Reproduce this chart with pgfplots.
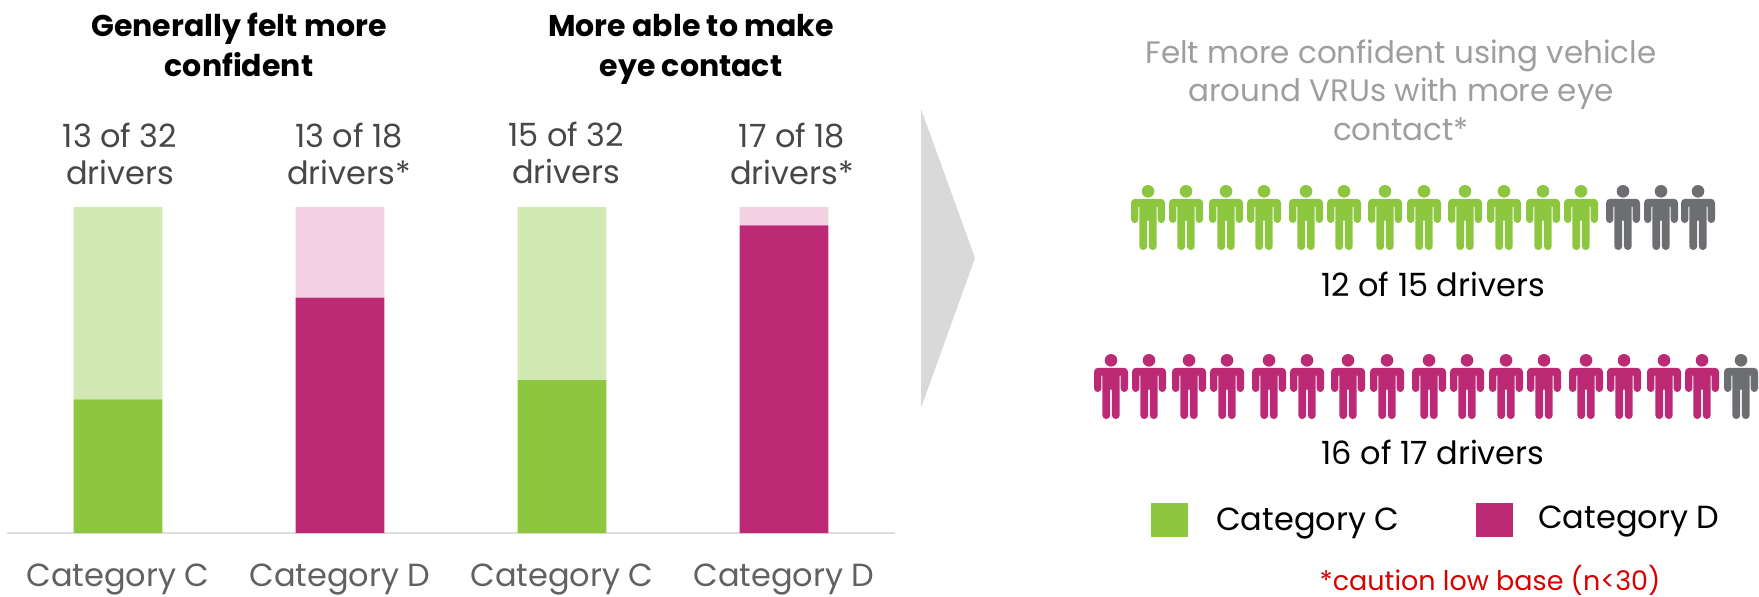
\documentclass[border=0pt]{standalone}
\usepackage{pgfplots}
\pgfplotsset{compat=1.18}
\usepackage{fontspec}
\setmainfont{Poppins}
\definecolor{cgreen}{HTML}{8DC73F}
\definecolor{cmag}{HTML}{BC2A76}
\definecolor{lgreen}{HTML}{D2E8B2}
\definecolor{lmag}{HTML}{F3D1E3}
\definecolor{pgray}{HTML}{6D6E71}
% rectangle x1,ybottom,x2,ytop, counter-clockwise like pgf's circles
\newcommand{\prect}[4]{%
  \pgfpathmoveto{\pgfpoint{#1pt}{#2pt}}%
  \pgfpathlineto{\pgfpoint{#3pt}{#2pt}}%
  \pgfpathlineto{\pgfpoint{#3pt}{#4pt}}%
  \pgfpathlineto{\pgfpoint{#1pt}{#4pt}}%
  \pgfpathclose}
\newcommand{\pcirc}[3]{\pgfpathcircle{\pgfpoint{#1pt}{#2pt}}{#3pt}}
\pgfdeclareplotmark{person}{%
  \pcirc{0}{26.2}{6.3}%
  % shoulders
  \prect{-13}{11}{13}{18.7}%
  \pcirc{-13}{14.7}{4}\pcirc{13}{14.7}{4}%
  % arms
  \prect{-17}{-1.8}{-9.6}{14.7}%
  \prect{9.6}{-1.8}{17}{14.7}%
  \pcirc{-13.3}{-1.8}{3.7}\pcirc{13.3}{-1.8}{3.7}%
  % torso
  \prect{-8.7}{-3}{8.7}{12}%
  % legs
  \prect{-8.7}{-28.6}{-0.8}{-2}%
  \prect{0.8}{-28.6}{8.7}{-2}%
  \pcirc{-4.75}{-28.6}{3.95}\pcirc{4.75}{-28.6}{3.95}%
  \pgfusepathqfill}
\newcommand{\fs}[1]{\fontsize{#1}{#1}\selectfont}
\begin{document}
\begin{tikzpicture}[x=1pt,y=-1pt]
\useasboundingbox (0,0) rectangle (1759,597);
% bars
\begin{axis}[
  at={(7pt,-533pt)}, anchor=south west,
  scale only axis, width=888pt, height=326pt,
  ybar stacked, bar width=0.4,
  xmin=-0.5, xmax=3.5, ymin=0, ymax=100,
  axis x line*=bottom, axis y line=none,
  axis line style={draw=black!13, line width=2pt, -},
  xtick={0,1,2,3},
  xticklabels={Category C,Category D,Category C,Category D},
  x tick label style={font=\fs{32}, text=black!62, yshift=-27.5pt},
  major tick length=0pt, xtick style={draw=none},
]
\addplot[fill=cgreen, draw=none] coordinates {(0,41) (1,0) (2,46.9) (3,0)};
\addplot[fill=cmag, draw=none] coordinates {(0,0) (1,72.2) (2,0) (3,94.4)};
\addplot[fill=lgreen, draw=none] coordinates {(0,59) (1,0) (2,53.1) (3,0)};
\addplot[fill=lmag, draw=none] coordinates {(0,0) (1,27.8) (2,0) (3,5.6)};
\end{axis}
% pictogram rows, on an axis in picture pixels
\begin{axis}[
  at={(0,0)}, anchor=north west,
  scale only axis, width=1759pt, height=597pt,
  xmin=0, xmax=1759, ymin=0, ymax=597, y dir=reverse,
  hide axis, clip=false,
]
\addplot[only marks, mark=person, color=cgreen] coordinates {
 (1148,217.5) (1186,217.5) (1226,217.5) (1264,217.5) (1306,217.5) (1344,217.5)
 (1385,217.5) (1424,217.5) (1465,217.5) (1504,217.5) (1543,217.5) (1581,217.5)};
\addplot[only marks, mark=person, color=pgray] coordinates {
 (1623,217.5) (1661,217.5) (1698,217.5)};
\addplot[only marks, mark=person, color=cmag] coordinates {
 (1111,386.5) (1149,386.5) (1189,386.5) (1227,386.5) (1269,386.5) (1307,386.5)
 (1348,386.5) (1387,386.5) (1429,386.5) (1467,386.5) (1506,386.5) (1544,386.5)
 (1586,386.5) (1624,386.5) (1664,386.5) (1702,386.5)};
\addplot[only marks, mark=person, color=pgray] coordinates {(1741,386.5)};
\end{axis}
% arrow
\fill[black!15] (921,109) -- (975,258) -- (921,408) -- cycle;
% legend swatches
\fill[cgreen] (1151,503) rectangle (1188,537);
\fill[cmag] (1476,503) rectangle (1513,537);
% headings
\tikzset{t/.style={anchor=base, inner sep=0pt}}
\node[t,font=\fs{30}\bfseries] at (239,36) {Generally felt more};
\node[t,font=\fs{30}\bfseries] at (239,76) {confident};
\node[t,font=\fs{30}\bfseries] at (691,36) {More able to make};
\node[t,font=\fs{30}\bfseries] at (691,76) {eye contact};
% counts
\tikzset{c/.style={t,font=\fs{32},text=black!72}}
\node[c] at (120,147) {13 of 32};
\node[c] at (120,184) {drivers};
\node[c] at (349,147) {13 of 18};
\node[c] at (349,184) {drivers*};
\node[c] at (566,146) {15 of 32};
\node[c] at (566,183) {drivers};
\node[c] at (792,147) {17 of 18};
\node[c] at (792,184) {drivers*};
% right side
\tikzset{r/.style={t,font=\fs{31},text=black!38}}
\node[r] at (1401,63) {Felt more confident using vehicle};
\node[r] at (1401,101) {around VRUs with more eye};
\node[r] at (1401,140) {contact*};
\node[t,font=\fs{32}] at (1433,296) {12 of 15 drivers};
\node[t,font=\fs{32}] at (1433,464) {16 of 17 drivers};
\node[t,font=\fs{32},anchor=base west] at (1216,530) {Category C};
\node[t,font=\fs{32},anchor=base west] at (1538,528) {Category D};
\node[t,font=\fs{27},text=red!85!black] at (1490,590) {*caution low base (n<30)};
\end{tikzpicture}
\end{document}
